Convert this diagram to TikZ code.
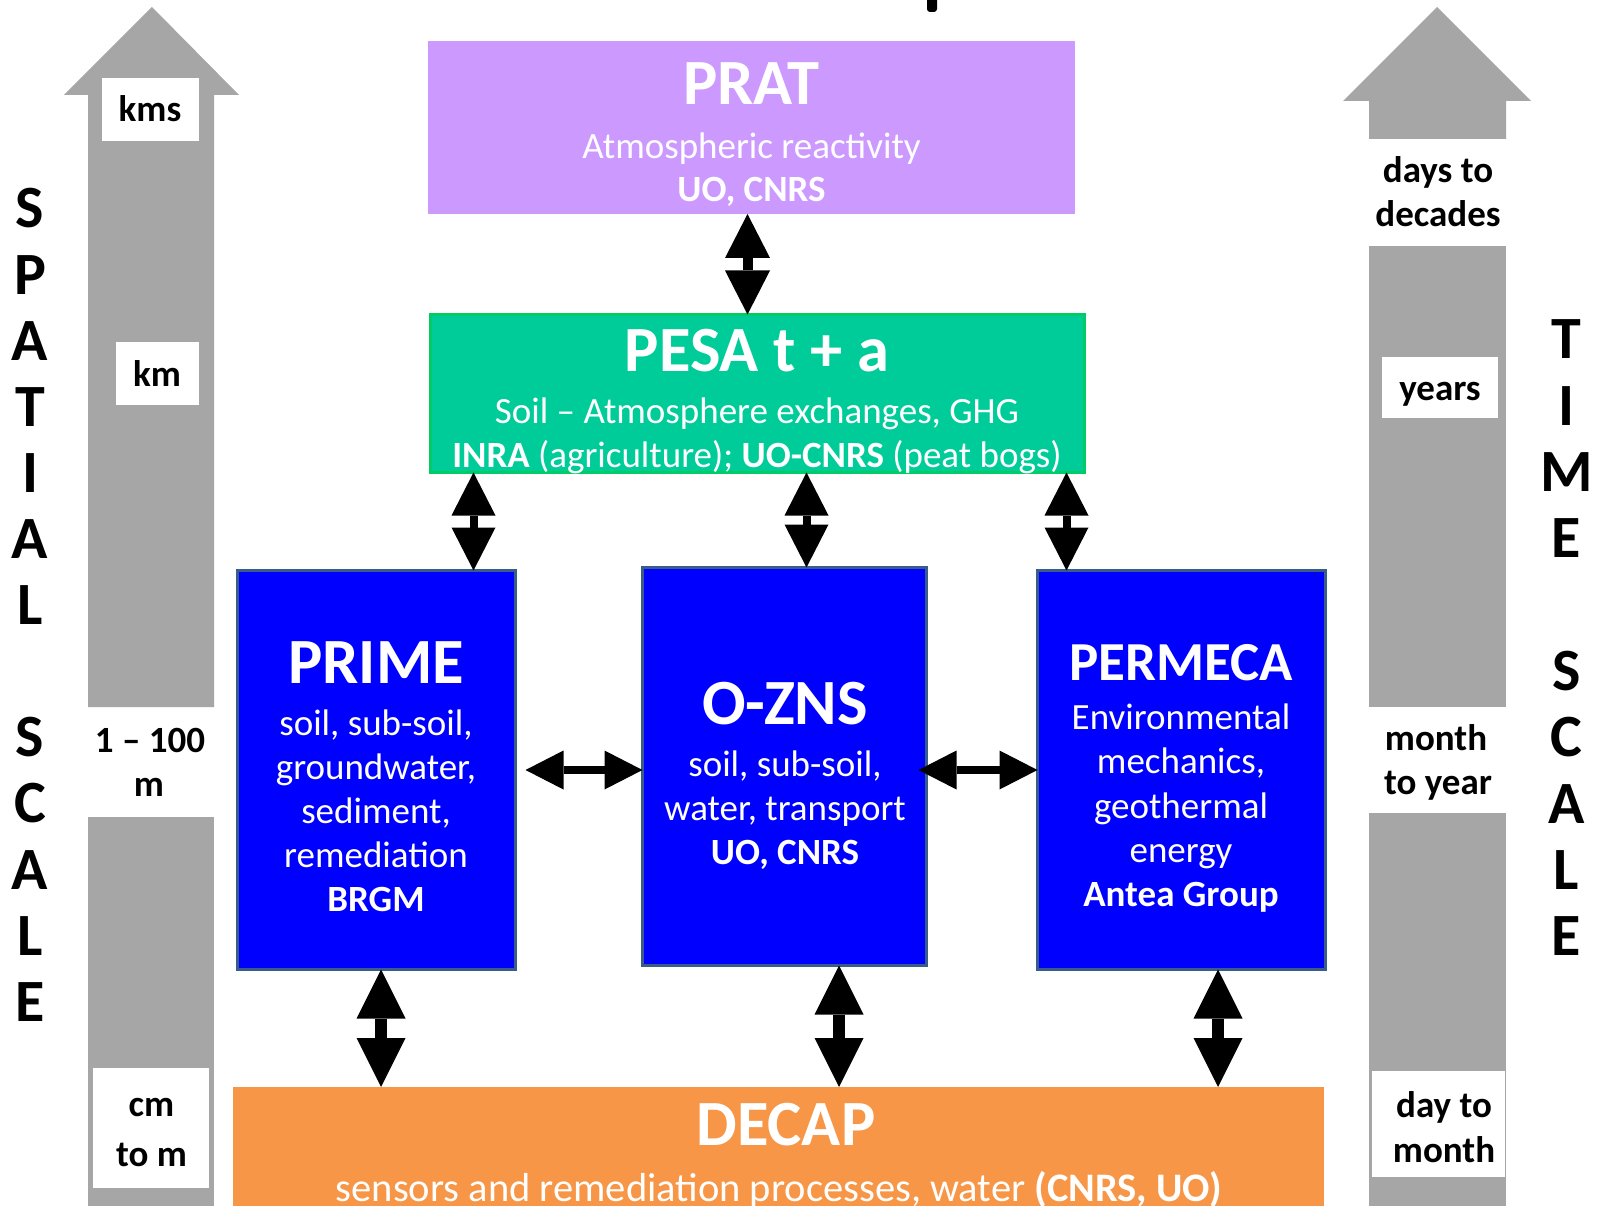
\documentclass[tikz,border=0pt]{standalone}
\usepackage{fontspec}
\setmainfont{Carlito}
\usetikzlibrary{arrows.meta}
\definecolor{pratc}{HTML}{CC99FF}
\definecolor{pesac}{HTML}{00CC99}
\definecolor{pesab}{HTML}{00CC66}
\definecolor{bluec}{HTML}{0000FF}
\definecolor{blueb}{HTML}{385D8A}
\definecolor{orangec}{HTML}{F79646}
\definecolor{grayc}{HTML}{A6A6A6}
\begin{document}
\begin{tikzpicture}[x=1pt,y=-1pt,
  boxn/.style={rectangle, inner sep=0pt, outer sep=0pt, anchor=north west},
  wbox/.style={rectangle, fill=white, inner sep=0pt, outer sep=0pt, anchor=north west},
  txt/.style={text=white, inner sep=0pt, anchor=base, font=\fontsize{37}{44}\selectfont},
  ttl/.style={text=white, inner sep=0pt, anchor=base, font=\fontsize{64.5}{72}\selectfont\bfseries},
  lbl/.style={text=black, inner sep=0pt, anchor=base, font=\fontsize{37}{44}\selectfont\bfseries},
  big/.style={text=black, inner sep=0pt, anchor=base, font=\fontsize{60}{66}\selectfont\bfseries},
  dbl/.style n args={3}{draw=black, line width=#1,
     {Triangle[width=#2,length=#3,line width=0pt]}-{Triangle[width=#2,length=#3,line width=0pt]}}
]
\clip (0,0) rectangle (1599,1206);
\fill[white] (0,0) rectangle (1599,1206);

% ---------- left spatial arrow ----------
\fill[grayc] (88,707) -- (88,95) -- (64,95) -- (152,7) -- (239,95) -- (214,95) -- (214,707) -- cycle;
\fill[grayc] (88,817) rectangle (214,1206);
\node[wbox, minimum width=97pt, minimum height=63pt] (kmsb) at (102,78) {};
\node[wbox, minimum width=83pt, minimum height=63pt] (kmb) at (116,342) {};
\node[wbox, minimum width=116pt, minimum height=120pt] (cmb) at (93,1068) {};
\node[lbl] (kms) at (150,122) {kms};
\node[lbl] (km) at (157,386) {km};
\node[lbl] (r1) at (150,752) {1 – 100};
\node[lbl] (r2) at (149,796) {m};
\node[lbl] (cm1) at (151.5,1116) {cm};
\node[lbl] (cm2) at (151.5,1166) {to m};

\foreach \ch [count=\i from 0] in {S,P,A,T,I,A,L} {
  \node[big] (sp\i) at (30,228+66.1*\i) {\ch};
}
\foreach \ch [count=\i from 8] in {S,C,A,L,E} {
  \node[big] (sc\i) at (30,228+66.1*\i) {\ch};
}

% ---------- right time arrow ----------
\fill[grayc] (1369,139) -- (1369,101) -- (1343,101) -- (1437,7) -- (1531,101) -- (1506,101) -- (1506,139) -- cycle;
\fill[grayc] (1369,246) rectangle (1506,707);
\fill[grayc] (1369,813) rectangle (1506,1206);
\node[wbox, minimum width=116pt, minimum height=61pt] (yrb) at (1382,357) {};
\node[wbox, minimum width=133pt, minimum height=106pt] (dmb) at (1372,1071) {};
\node[lbl] (dd1) at (1438,183) {days to};
\node[lbl] (dd2) at (1438,227) {decades};
\node[lbl] (yrs) at (1440,400) {years};
\node[lbl] (my1) at (1436,750) {month};
\node[lbl] (my2) at (1438,794) {to year};
\node[lbl] (dm1) at (1444,1117) {day to};
\node[lbl] (dm2) at (1444,1162) {month};

\foreach \ch [count=\i from 0] in {T,I,M,E} {
  \node[big] (ti\i) at (1566.5,359+66.3*\i) {\ch};
}
\foreach \ch [count=\i from 5] in {S,C,A,L,E} {
  \node[big] (ts\i) at (1566.5,359+66.3*\i) {\ch};
}

% ---------- top mark ----------
\fill[black, rounded corners=3pt] (927,-10) rectangle (937,12);

% ---------- boxes ----------
\node[boxn, fill=pratc, minimum width=647pt, minimum height=173pt] (prat) at (428,41) {};
\node[boxn, fill=pesac, draw=pesab, line width=3pt, minimum width=654pt, minimum height=158pt] (pesa) at (430.5,314.5) {};
\node[boxn, fill=bluec, draw=blueb, line width=3pt, minimum width=278pt, minimum height=399pt] (prime) at (237.5,570.5) {};
\node[boxn, fill=bluec, draw=blueb, line width=3pt, minimum width=284pt, minimum height=398pt] (ozns) at (642.5,567.5) {};
\node[boxn, fill=bluec, draw=blueb, line width=3pt, minimum width=288pt, minimum height=399pt] (permeca) at (1037.5,570.5) {};
\node[boxn, fill=orangec, minimum width=1091pt, minimum height=170pt] (decap) at (233,1087) {};

% ---------- box texts ----------
\node[ttl] (t1) at (751.5,105) {PRAT};
\node[txt] (t2) at (751.5,159) {Atmospheric reactivity};
\node[txt] (t3) at (751.5,202) {\bfseries UO, CNRS};

\node[ttl] (p1) at (757,372) {PESA t + a};
\node[txt] (p2) at (757,423) {Soil – Atmosphere exchanges, GHG};
\node[txt] (p3) at (757,467) {\textbf{INRA} (agriculture); \textbf{UO-CNRS} (peat bogs)};

\node[ttl] (m0) at (376,683) {PRIME};
\node[txt] (m1) at (376,735) {soil, sub-soil,};
\node[txt] (m2) at (376,779) {groundwater,};
\node[txt] (m3) at (376,823) {sediment,};
\node[txt] (m4) at (376,867) {remediation};
\node[txt] (m5) at (376,911) {\bfseries BRGM};

\node[ttl] (o0) at (785,724) {O-ZNS};
\node[txt] (o1) at (785,776) {soil, sub-soil,};
\node[txt] (o2) at (785,820) {water, transport};
\node[txt] (o3) at (785,864) {\bfseries UO, CNRS};

\node[ttl, font=\fontsize{55}{61}\selectfont\bfseries] (e0) at (1181,680) {PERMECA};
\node[txt] (e1) at (1181,729) {Environmental};
\node[txt] (e2) at (1181,773) {mechanics,};
\node[txt] (e3) at (1181,818) {geothermal};
\node[txt] (e4) at (1181,862) {energy};
\node[txt] (e5) at (1181,906) {\bfseries Antea Group};

\node[ttl] (d0) at (786,1145) {DECAP};
\node[txt, font=\fontsize{40.5}{48}\selectfont] (d1) at (779,1201) {sensors and remediation processes, water \textbf{(CNRS, UO)}};

% ---------- connectors ----------
\draw[dbl={10pt}{45pt}{44pt}] ([xshift=-4pt]prat.south) -- ([xshift=-4pt]prat.south |- pesa.north);

\draw[dbl={8pt}{44pt}{43pt}] ([xshift=43pt]pesa.south west) -- ([xshift=43pt]pesa.south west |- prime.north);
\draw[dbl={8pt}{44pt}{43pt}] ([xshift=376pt]pesa.south west) -- ([xshift=376pt]pesa.south west |- ozns.north);
\draw[dbl={8pt}{44pt}{43pt}] ([xshift=-18pt]pesa.south east) -- ([xshift=-18pt]pesa.south east |- permeca.north);

\draw[dbl={8pt}{39pt}{38pt}] ([xshift=10pt]prime.east) -- (ozns.west |- prime.east);
\draw[dbl={8pt}{39pt}{38pt}] ([xshift=-8pt]ozns.east |- prime.east) -- (permeca.west |- prime.east);

\draw[dbl={12pt}{49pt}{49pt}] ([xshift=4.5pt]prime.south) -- ([xshift=4.5pt]prime.south |- decap.north);
\draw[dbl={12pt}{49pt}{49pt}] ([xshift=54.5pt]ozns.south) -- ([xshift=54.5pt]ozns.south |- decap.north);
\draw[dbl={12pt}{49pt}{49pt}] ([xshift=36.5pt]permeca.south) -- ([xshift=36.5pt]permeca.south |- decap.north);
\end{tikzpicture}
\end{document}
